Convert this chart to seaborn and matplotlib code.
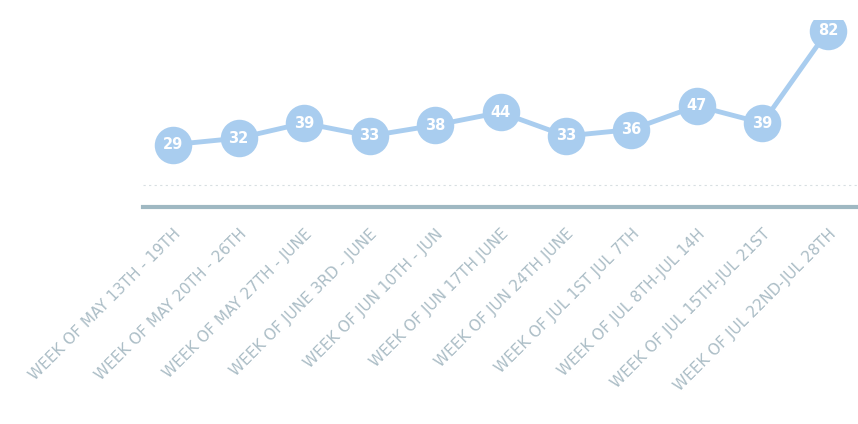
import matplotlib
matplotlib.use("Agg")
import matplotlib.pyplot as plt
import seaborn as sns
import pandas as pd

weeks = [
    "WEEK OF MAY 13TH - 19TH",
    "WEEK OF MAY 20TH - 26TH",
    "WEEK OF MAY 27TH - JUNE",
    "WEEK OF JUNE 3RD - JUNE",
    "WEEK OF JUN 10TH - JUN",
    "WEEK OF JUN 17TH JUNE",
    "WEEK OF JUN 24TH JUNE",
    "WEEK OF JUL 1ST JUL 7TH",
    "WEEK OF JUL 8TH-JUL 14H",
    "WEEK OF JUL 15TH-JUL 21ST",
    "WEEK OF JUL 22ND-JUL 28TH",
]
counts = [29, 32, 39, 33, 38, 44, 33, 36, 47, 39, 82]

df = pd.DataFrame({"week": weeks, "count": counts, "pos": range(len(weeks))})

sns.set_theme(style="white")
plt.rcParams["font.family"] = ["DejaVu Sans"]

fig = plt.figure(figsize=(8.58, 4.24), dpi=100)
ax = fig.add_axes([0.1667, 0.512, 0.8333, 0.441])

blue = "#a9cdef"
sns.lineplot(data=df, x="pos", y="count", ax=ax, color=blue, linewidth=3.5,
             marker="o", markersize=27, markeredgewidth=0, markerfacecolor=blue)

for p, v in zip(df["pos"], df["count"]):
    ax.text(p, v, str(v), ha="center", va="center", color="white",
            fontsize=10.5, fontweight="bold")

ax.set_xlim(-0.46, len(weeks) - 0.54)
ax.set_ylim(0, 87)
ax.axhline(10, color="#d8dfe2", linewidth=0.8, linestyle=(0, (2, 3)), zorder=0)
ax.set_xticks(df["pos"])
ax.set_xticklabels(weeks, rotation=45, ha="right", rotation_mode="anchor",
                   fontsize=11, color="#abbdc6")
ax.tick_params(axis="x", length=0, pad=14)
ax.set_yticks([])
ax.set_xlabel("")
ax.set_ylabel("")
for s in ["top", "right", "left"]:
    ax.spines[s].set_visible(False)
ax.spines["bottom"].set_color("#9fb8c2")
ax.spines["bottom"].set_linewidth(3)

fig.savefig("out.png", dpi=100)
